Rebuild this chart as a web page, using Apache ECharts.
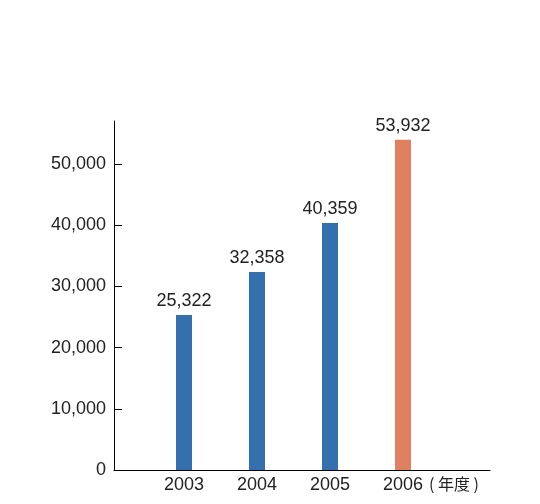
<!DOCTYPE html>
<html>
<head>
<meta charset="utf-8" />
<script src="https://cdn.jsdelivr.net/npm/echarts@6/dist/echarts.min.js"></script>
<style>
  html, body { margin: 0; padding: 0; background: #fff; }
  #main { width: 540px; height: 504px; }
</style>
</head>
<body>
<div id="main"></div>
<script type="text/javascript">
// 年度ごとの数値
var years = ['2003', '2004', '2005', '2006'];
var totals = [25322, 32358, 40359, 53932];
var yTicks = [0, 10000, 20000, 30000, 40000, 50000];
var unitLabel = '( 年度 )';

var blue = '#3370ad';
var orange = '#df805e';
var textColor = '#222';
var numFont = 'Liberation Sans, Arial, sans-serif';

function fmt(v) {
    return Number(v).toLocaleString('en-US');
}

var myChart = echarts.init(document.getElementById('main'));
var option = {
    animation: false,
    grid: [
        // frame: axis lines + y labels
        { left: 114, right: 50, top: 121, bottom: 34 },
        // bars
        { left: 147.5, right: 100.5, top: 121, bottom: 34 }
    ],
    xAxis: [
        {
            type: 'category',
            gridIndex: 0,
            data: [''],
            axisLine: { lineStyle: { color: '#000', width: 1 } },
            axisTick: { show: false },
            axisLabel: { show: false }
        },
        {
            type: 'category',
            gridIndex: 1,
            data: years,
            axisLine: { show: false },
            axisTick: { show: false },
            axisLabel: {
                margin: 6,
                fontSize: 18,
                color: textColor,
                fontFamily: numFont
            },
            name: unitLabel,
            nameLocation: 'end',
            nameGap: -15,
            nameTextStyle: {
                fontFamily: 'Noto Sans CJK JP',
                fontSize: 16,
                color: textColor,
                align: 'left',
                verticalAlign: 'top',
                padding: [6, 0, 0, 0]
            }
        }
    ],
    yAxis: [
        {
            type: 'value',
            gridIndex: 0,
            min: 0,
            max: 57000,
            interval: 10000,
            axisLine: { show: true, lineStyle: { color: '#000', width: 1 } },
            axisTick: {
                show: true,
                inside: true,
                length: 8,
                customValues: yTicks,
                lineStyle: { color: '#000' }
            },
            axisLabel: {
                customValues: yTicks,
                margin: 8,
                fontSize: 18,
                color: textColor,
                fontFamily: numFont,
                formatter: fmt
            },
            splitLine: { show: false }
        },
        {
            type: 'value',
            gridIndex: 1,
            min: 0,
            max: 57000,
            show: false,
            splitLine: { show: false }
        }
    ],
    series: [{
        type: 'bar',
        xAxisIndex: 1,
        yAxisIndex: 1,
        data: totals,
        barWidth: 16,
        itemStyle: {
            color: function (p) {
                return p.dataIndex === totals.length - 1 ? orange : blue;
            }
        },
        label: {
            show: true,
            position: 'top',
            distance: 5,
            fontSize: 18,
            color: textColor,
            fontFamily: numFont,
            formatter: function (p) { return fmt(p.value); }
        }
    }]
};
myChart.setOption(option);
</script>
</body>
</html>
